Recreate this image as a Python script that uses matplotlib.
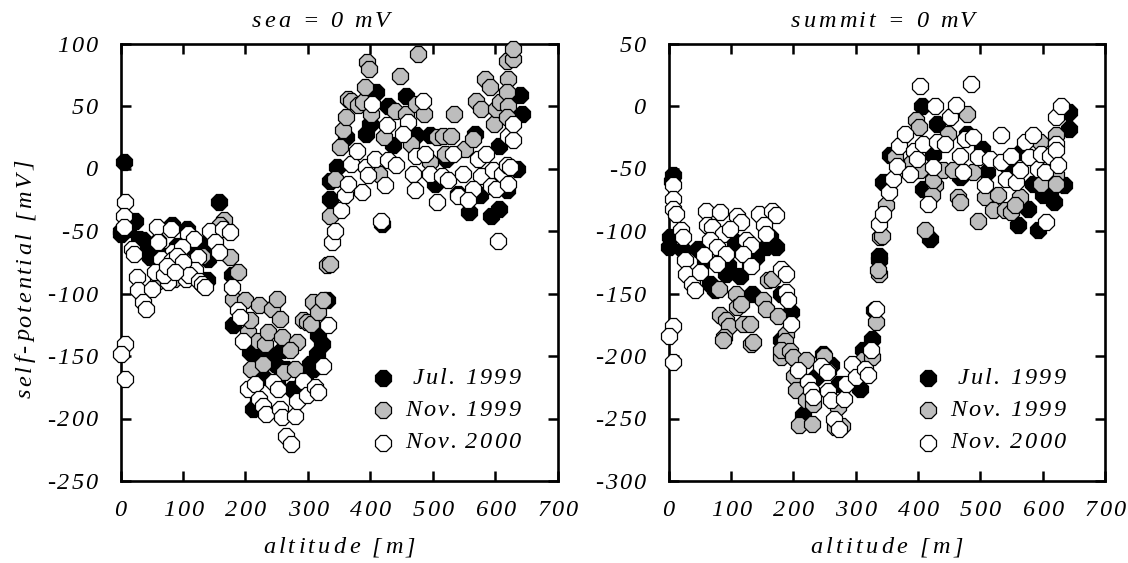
import math
import matplotlib
matplotlib.use("Agg")
import matplotlib.pyplot as plt
from matplotlib.text import Text

plt.rcParams['font.family'] = ['Liberation Serif', 'DejaVu Serif']
plt.rcParams['font.style'] = 'italic'
plt.rcParams['axes.unicode_minus'] = False

# ---- left panel: sea = 0 mV
sea_jul_x = [0,5,12,23,0,30,36,40,47,52,60,68,82,90,106,112,120,135,140,150,158,138,
             178,180,207,212,228,247,258,274,303,314,322,317,330,290,265,240,220,296,308,285,215,250,
             335,335,346,362,394,400,410,428,457,437,474,496,504,522,541,558,568,576,593,606,606,640,643,635,619,419]
sea_jul_y = [-50,5,-48,-42,-52,-56,-57,-66,-71,-62,-58,-70,-45,-62,-48,-70,-66,-60,-72,-66,-27,-89,
             -85,-125,-147,-192,-167,-156,-145,-176,-156,-148,-140,-133,-105,-172,-160,-150,-185,-165,-160,-178,-150,-170,
             -24,-10,1,25,28,36,61,50,58,19,27,27,-12,8,-20,-35,28,-21,-38,-32,18,59,44,0,-17,-44]
sea_nov99_x = [103,85,70,115,130,60,166,160,175,188,181,199,222,243,251,255,292,298,305,309,317,324,330,204,221,231,236,258,282,272,209,229,262,279,208,
               335,335,344,351,357,361,365,370,381,389,392,402,395,398,447,477,422,440,457,466,473,486,496,414,507,517,529,520,534,552,565,570,578,584,592,598,601,608,619,628,629,620,619,621,619]
sea_nov99_y = [-75,-88,-78,-85,-70,-90,-41,-45,-71,-83,-104,-105,-109,-112,-104,-120,-121,-123,-124,-107,-115,-105,-77,-131,-138,-140,-131,-135,-139,-145,-160,-156,-163,-160,-121,
               -76,-38,-8,17,31,41,56,54,51,53,65,44,85,80,74,92,25,46,44,20,52,44,5,-4,25,26,26,12,44,16,24,54,48,72,65,36,48,53,86,88,96,72,61,50,41]
sea_nov00_x = [7,5,6,19,22,59,81,108,118,60,84,98,143,164,175,151,158,124,65,82,26,28,36,41,50,55,76,119,132,94,70,90,105,7,0,7,
               90,100,110,75,88,125,130,135,
               178,188,191,196,204,215,222,228,233,244,252,256,258,279,265,273,282,292,299,311,317,325,332,
               338,344,353,360,365,387,369,379,393,397,408,424,429,441,427,403,460,452,485,474,488,469,472,496,515,525,507,533,549,572,585,577,565,541,556,593,601,597,611,621,619,624,621,629,629,605,417]
sea_nov00_y = [-27,-38,-47,-64,-68,-47,-48,-52,-56,-59,-67,-63,-50,-48,-51,-59,-67,-71,-72,-73,-87,-97,-107,-112,-96,-83,-91,-81,-93,-80,-85,-78,-88,-140,-148,-168,
               -70,-75,-85,-78,-83,-90,-92,-95,
               -95,-113,-119,-138,-176,-172,-184,-190,-196,-171,-176,-192,-199,-198,-214,-220,-186,-170,-181,-175,-179,-158,-125,
               -59,-50,-33,-21,-12,-19,4,14,1,-5,8,-13,7,3,35,52,37,28,54,10,12,-4,-17,-4,-6,-9,-27,12,-4,8,12,-6,-16,-22,-25,-14,-16,-1,-4,-12,3,1,26,23,36,-58,-42]

# ---- right panel: summit = 0 mV
sum_jul_x = [7,5,1,2,23,47,59,106,95,157,173,141,162,130,66,74,93,114,134,181,197,181,216,248,261,237,274,307,312,327,329,337,
             337,344,355,406,430,408,420,424,478,502,467,510,544,560,576,593,566,584,600,619,635,643,643,611]
sum_jul_y = [-55,-60,-113,-105,-115,-114,-123,-109,-127,-113,-113,-121,-105,-127,-142,-147,-134,-136,-150,-150,-165,-187,-247,-198,-207,-217,-222,-226,-195,-186,-163,-123,
             -120,-61,-39,0,-14,-66,-106,-39,-22,-34,-57,-53,-49,-95,-82,-99,-37,-62,-71,-77,-63,-5,-18,-70]
sum_nov99_x = [81,108,110,117,152,156,175,160,166,82,93,97,89,88,120,131,133,136,188,187,181,181,195,200,202,205,221,221,232,209,230,250,255,267,279,272,
               312,326,332,337,336,339,343,349,397,401,411,449,478,464,467,496,427,422,424,363,390,403,440,456,488,507,529,564,521,539,549,555,595,598,622,622,622]
sum_nov99_y = [-146,-150,-161,-158,-155,-162,-168,-139,-138,-167,-171,-176,-185,-187,-174,-174,-190,-189,-182,-188,-201,-195,-196,-201,-216,-227,-203,-235,-238,-255,-254,-200,-212,-257,-256,-241,
               -203,-201,-173,-134,-131,-105,-104,-79,-11,-17,-99,-22,-6,-73,-77,-92,-63,-71,-59,-41,-45,-51,-51,-51,-53,-73,-71,-73,-83,-83,-85,-79,-29,-62,-23,-55,-62]
sum_nov00_x = [7,7,7,12,20,23,26,60,82,110,117,61,69,87,98,145,166,173,153,157,125,133,66,77,93,119,57,77,132,180,189,28,37,42,50,7,0,7,
               188,191,196,207,223,229,232,244,254,255,261,281,284,265,273,294,300,315,320,324,332,
               337,344,353,360,366,369,380,388,393,399,408,404,428,452,461,485,424,416,430,443,475,489,468,472,496,516,534,534,508,541,557,549,564,572,578,585,593,598,603,611,606,621,630,622,622,624]
sum_nov00_y = [-63,-74,-82,-86,-99,-105,-123,-84,-85,-88,-93,-95,-97,-102,-98,-86,-84,-87,-95,-102,-107,-111,-107,-113,-118,-118,-119,-126,-128,-130,-134,-134,-142,-147,-133,-176,-184,-205,
               -149,-155,-174,-211,-221,-227,-233,-208,-213,-228,-235,-234,-222,-250,-258,-206,-217,-210,-215,-195,-162,
               -94,-86,-69,-58,-48,-32,-22,-54,-36,-42,-30,16,0,-9,1,18,-49,-78,-29,-30,-26,-25,-40,-53,-41,-42,-45,-23,-63,-58,-61,-40,-51,-29,-41,-23,-50,-38,-53,-40,-93,-9,0,-30,-35,-47]

x_ticks = [0,100,200,300,400,500,600,700]
sea_ticks = [-250,-200,-150,-100,-50,0,50,100]
sum_ticks = [-300,-250,-200,-150,-100,-50,0,50]
legend_labels = ['Jul. 1999','Nov. 1999','Nov. 2000']
face_colors = ['black','#bdbdbd','white']


class TrackedText(Text):
    """One text whose glyphs are drawn with extra letter spacing (in pixels)."""
    tracking_px = 2.0

    def draw(self, renderer):
        s = self.get_text()
        if not self.get_visible() or not s:
            return
        _, info, _ = self._get_layout(renderer)
        posx, posy = self.get_transform().transform(self.get_unitless_position())
        _, _, x0, y0 = info[0]
        angle = math.radians(self.get_rotation())
        dx, dy = math.cos(angle), math.sin(angle)
        t = self.tracking_px
        frac = {'left': 0, 'center': 0.5, 'right': 1}[self.get_ha()]
        back = frac * (len(s) - 1) * t
        startx, starty = posx + x0 - back * dx, posy + y0 - back * dy
        gc = renderer.new_gc()
        gc.set_foreground(self.get_color())
        prop = self.get_fontproperties()
        _, canvash = renderer.get_canvas_width_height()
        for i, ch in enumerate(s):
            adv = renderer.get_text_width_height_descent(s[:i], prop, False)[0] if i else 0
            d = adv + i * t
            x, y = startx + d * dx, starty + d * dy
            if renderer.flipy():
                y = canvash - y
            renderer.draw_text(gc, x, y, ch, prop, self.get_rotation())
        gc.restore()


def track(text, px):
    text.__class__ = TrackedText
    text.tracking_px = px
    text.set_fontstyle('italic')


W, H = 1128, 563
fig = plt.figure(figsize=(W/100, H/100), dpi=100)
FS = 17.5
MS = 12.6
MS_LEG = 11.8


def panel(left, right, title, title_x, series, ylim, yticks, legend_x, text_x, ylabel=None):
    width = right - left
    ax = fig.add_axes([left/W, 1-481/H, width/W, (481-43.5)/H])
    for (xs, ys), fc in zip(series, face_colors):
        ax.plot(xs, ys, ls='none', marker='8', ms=MS, mfc=fc, mec='black',
                mew=0.9, clip_on=False, zorder=3)
    ax.set_xlim(0, 700)
    ax.set_ylim(*ylim)
    ax.set_xticks(x_ticks)
    ax.set_yticks(yticks)
    ax.tick_params(direction='in', length=7.4, width=1.8, top=True, right=True, labelsize=FS)
    ax.tick_params(axis='x', pad=14)
    ax.tick_params(axis='y', pad=16.5)
    for s in ax.spines.values():
        s.set_linewidth(1.9)
    for lab in ax.get_xticklabels() + ax.get_yticklabels():
        track(lab, 2.0)
    ax.set_xlabel('altitude [m]', fontsize=FS, labelpad=11.5)
    track(ax.xaxis.label, 3.2)
    if ylabel:
        ax.set_ylabel(ylabel, fontsize=FS)
        ax.yaxis.set_label_coords((36-left)/width, (481-279)/437.5)
        track(ax.yaxis.label, 2.9)
    t = ax.set_title(title, fontsize=FS, pad=12, x=(title_x-left)/width)
    track(t, 2.9)
    for lab, fc, ypx in zip(legend_labels, face_colors, [378, 410, 443]):
        yy = (481-ypx)/437.5
        ax.plot([legend_x], [yy], transform=ax.transAxes, ls='none', marker='8', ms=MS_LEG,
                mfc=fc, mec='black', mew=0.9, zorder=4)
        tt = ax.text((text_x-left)/width, yy, lab, transform=ax.transAxes,
                     ha='right', va='center', fontsize=FS)
        track(tt, 2.1)
    return ax


panel(120.5, 557.5, 'sea = 0 mV', 321,
      [(sea_jul_x, sea_jul_y), (sea_nov99_x, sea_nov99_y), (sea_nov00_x, sea_nov00_y)],
      (-250, 100), sea_ticks, (383-120.5)/437, 520, 'self-potential [mV]')
panel(668.5, 1105, 'summit = 0 mV', 883,
      [(sum_jul_x, sum_jul_y), (sum_nov99_x, sum_nov99_y), (sum_nov00_x, sum_nov00_y)],
      (-300, 50), sum_ticks, (928-668.5)/436.5, 1065)

fig.savefig('out.png', dpi=100)
